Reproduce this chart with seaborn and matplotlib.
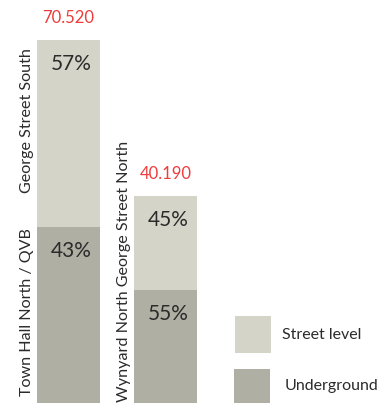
import matplotlib
matplotlib.use("Agg")
import matplotlib.pyplot as plt
from matplotlib.patches import Rectangle
import pandas as pd
import seaborn as sns

# data
stations = ["Town Hall / George St South", "Wynyard / George St North"]
totals = [70.52, 40.19]
underground = [34.2, 22.0]
pct_street = ["57%", "45%"]
pct_under = ["43%", "55%"]
lower_names = ["Town Hall North / QVB", "Wynyard North"]
upper_names = ["George Street South", "George Street North"]
total_labels = ["70.520", "40.190"]
legend_labels = ["Street level", "Underground"]

LIGHT = "#d4d5c8"
DARK = "#afb0a3"
RED = "#ee3b3b"
TXT = "#2b2b2b"

sns.set_style("white")
plt.rcParams["font.family"] = ["Lato", "DejaVu Sans"]

df = pd.DataFrame({"station": stations, "total": totals, "under": underground})

fig = plt.figure(figsize=(3.83, 4.03), dpi=100)
ax = fig.add_axes([0, 0, 1, 1])
sns.barplot(data=df, x="station", y="total", color=LIGHT, saturation=1,
            width=0.65, linewidth=0, ax=ax)
sns.barplot(data=df, x="station", y="under", color=DARK, saturation=1,
            width=0.65, linewidth=0, ax=ax)
ax.set_xlim(-0.706, 3.242)
ax.set_ylim(0, 78.29)
ax.axis("off")

for i in range(len(stations)):
    # red totals above bars
    ax.annotate(total_labels[i], (i, totals[i]), xytext=(0, 10),
                textcoords="offset points", ha="center", va="bottom",
                color=RED, fontsize=12)
    # percentages near the top of each segment
    ax.annotate(pct_street[i], (i + 0.03, totals[i]), xytext=(0, -10),
                textcoords="offset points", ha="center", va="top",
                color=TXT, fontsize=15)
    ax.annotate(pct_under[i], (i + 0.03, underground[i]), xytext=(0, -10),
                textcoords="offset points", ha="center", va="top",
                color=TXT, fontsize=15)

# rotated station names left of the bars
ax.text(-0.43, 1.4, lower_names[0], rotation=90, ha="center", va="bottom",
        color=TXT, fontsize=11.6)
ax.text(-0.43, 40.8, upper_names[0], rotation=90, ha="center", va="bottom",
        color=TXT, fontsize=11.6)
ax.text(0.57, 0.2, lower_names[1] + " " + upper_names[1], rotation=90,
        ha="center", va="bottom", color=TXT, fontsize=11.6)

# legend swatches
ax.add_patch(Rectangle((235 / 383, 50 / 403), 36 / 383, 37 / 403,
                       transform=ax.transAxes, color=LIGHT, lw=0))
ax.add_patch(Rectangle((234 / 383, 0), 36 / 383, 34 / 403,
                       transform=ax.transAxes, color=DARK, lw=0))
ax.text(282 / 383, 68 / 403, legend_labels[0], transform=ax.transAxes,
        va="center", ha="left", color=TXT, fontsize=11.5)
ax.text(285 / 383, 17 / 403, legend_labels[1], transform=ax.transAxes,
        va="center", ha="left", color=TXT, fontsize=11.5)

fig.savefig("out.png", dpi=100)
